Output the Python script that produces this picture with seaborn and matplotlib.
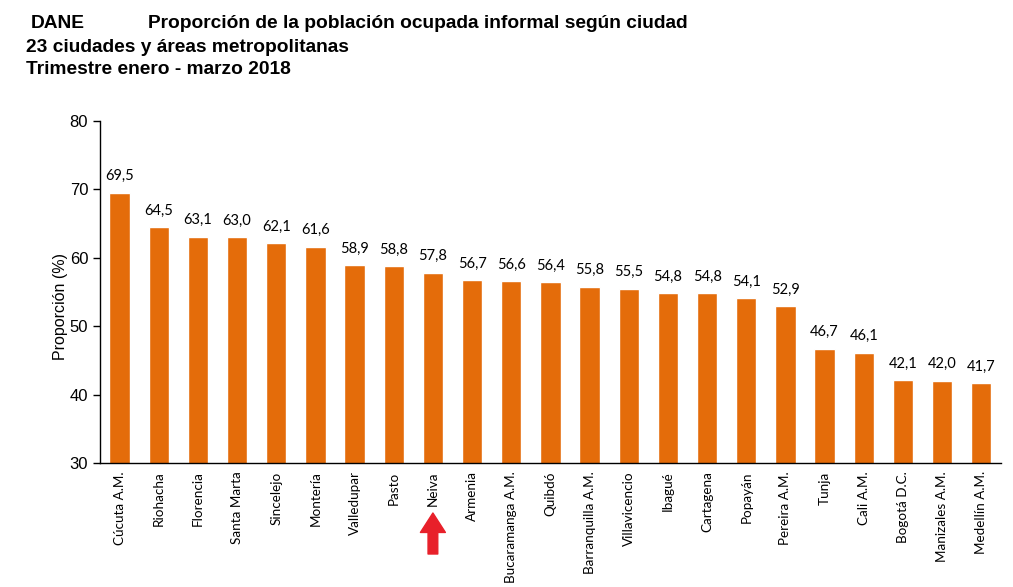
import matplotlib
matplotlib.use("Agg")
import matplotlib.pyplot as plt
import seaborn as sns
import pandas as pd
from matplotlib.transforms import blended_transform_factory

ciudades = ["Cúcuta A.M.", "Riohacha", "Florencia", "Santa Marta", "Sincelejo",
            "Montería", "Valledupar", "Pasto", "Neiva", "Armenia",
            "Bucaramanga A.M.", "Quibdó", "Barranquilla A.M.", "Villavicencio",
            "Ibagué", "Cartagena", "Popayán", "Pereira A.M.", "Tunja", "Cali A.M.",
            "Bogotá D.C.", "Manizales A.M.", "Medellín A.M."]
valores = [69.5, 64.5, 63.1, 63.0, 62.1, 61.6, 58.9, 58.8, 57.8, 56.7,
           56.6, 56.4, 55.8, 55.5, 54.8, 54.8, 54.1, 52.9, 46.7, 46.1,
           42.1, 42.0, 41.7]
y_ticks = [30, 40, 50, 60, 70, 80]
destacada = "Neiva"

df = pd.DataFrame({"ciudad": ciudades, "valor": valores})

sns.set_style("white")
plt.rcParams["font.family"] = ["Lato", "DejaVu Sans"]
plt.rcParams["text.color"] = "black"
plt.rcParams["axes.labelcolor"] = "black"
plt.rcParams["xtick.color"] = "black"
plt.rcParams["ytick.color"] = "black"

fig = plt.figure(figsize=(10.13, 5.87), dpi=100)
ax = fig.add_axes([0.0987, 0.2112, 0.8893, 0.5827])

sns.barplot(data=df, x="ciudad", y="valor", color="#E46C0A", saturation=1,
            width=0.52, ax=ax, order=ciudades)

ax.set_ylim(30, 80)
ax.set_yticks(y_ticks)
ax.set_yticklabels([str(t) for t in y_ticks], fontsize=12, family="Liberation Sans")
ax.set_xlim(-0.5, len(ciudades) - 0.5)
ax.set_xticks(range(len(ciudades)))
ax.set_xticklabels(ciudades, rotation=90, fontsize=9.7)
ax.tick_params(axis="x", which="major", length=0, pad=6)
ax.set_xticks([i - 0.5 for i in range(len(ciudades) + 1)], minor=True)
ax.tick_params(axis="x", which="minor", length=5, width=1, color="black", direction="out")
ax.tick_params(axis="y", length=5, width=1, color="black", direction="out", left=True)

for s in ["top", "right"]:
    ax.spines[s].set_visible(False)
for s in ["left", "bottom"]:
    ax.spines[s].set_color("black")
    ax.spines[s].set_linewidth(1)

ax.set_xlabel("")
ax.set_ylabel("Proporción (%)", fontsize=11.5, family="Liberation Sans")
ax.yaxis.set_label_coords(-0.036, 0.457)

for i, v in enumerate(valores):
    ax.text(i, v + 1.4, f"{v:.1f}".replace(".", ","), ha="center", va="bottom",
            fontsize=10.5)

# red arrow under highlighted city
idx = ciudades.index(destacada)
trans = blended_transform_factory(ax.transData, fig.transFigure)
ax.annotate("", xy=(idx, 1 - 513 / 587), xytext=(idx, 1 - 554 / 587),
            xycoords=trans, textcoords=trans,
            arrowprops=dict(facecolor="#E8202A", edgecolor="#E8202A",
                            width=7, headwidth=18, headlength=14))

tkw = dict(fontsize=13.8, fontweight="bold", family="Liberation Sans",
           va="center", color="black")
fig.text(0.030, 1 - 24 / 587, "DANE", **tkw)
fig.text(0.146, 1 - 23 / 587, "Proporción de la población ocupada informal según ciudad", **tkw)
fig.text(0.026, 1 - 47 / 587, "23 ciudades y áreas metropolitanas", **tkw)
fig.text(0.026, 1 - 70 / 587, "Trimestre enero - marzo 2018", **tkw)

fig.savefig("out.png", dpi=100)
